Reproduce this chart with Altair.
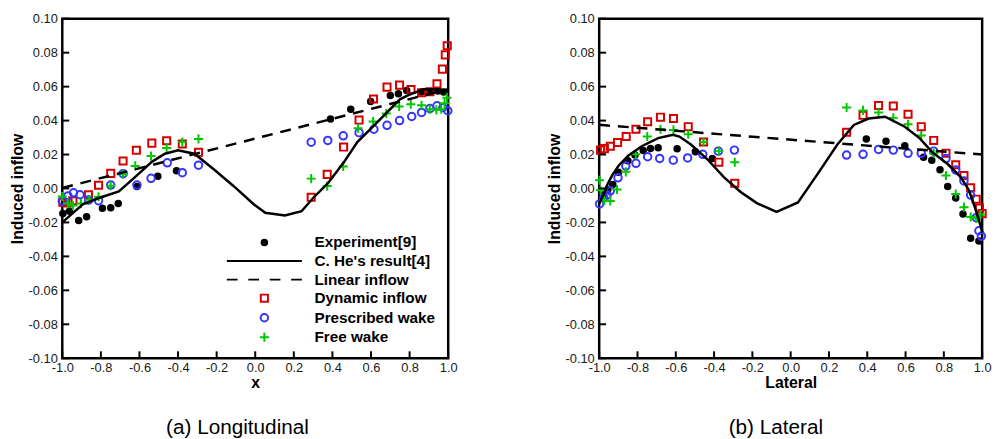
import altair as alt
import pandas as pd

# ---------------- data ----------------
SERIES = ["Experiment[9]", "C. He's result[4]", "Linear inflow",
          "Dynamic inflow", "Prescribed wake", "Free wake"]
X_TICKS = [-1.0, -0.8, -0.6, -0.4, -0.2, 0.0, 0.2, 0.4, 0.6, 0.8, 1.0]
Y_TICKS = [-0.10, -0.08, -0.06, -0.04, -0.02, 0.00, 0.02, 0.04, 0.06, 0.08, 0.10]

# (a) Longitudinal
lon_exp_x = [-0.997, -0.963, -0.915, -0.874, -0.792, -0.749, -0.71, -0.613, -0.505, -0.408,
             0.39, 0.495, 0.598, 0.70, 0.742, 0.785, 0.862, 0.905, 0.947, 0.976]
lon_exp_y = [-0.0147, -0.0134, -0.0188, -0.0167, -0.0116, -0.0114, -0.0089, 0.0012, 0.0072, 0.0104,
             0.041, 0.0467, 0.0512, 0.0548, 0.0558, 0.0577, 0.0568, 0.0568, 0.0574, 0.0568]
lon_he_x = [-1.0, -0.963, -0.894, -0.81, -0.707, -0.62, -0.536, -0.468, -0.40, -0.315, -0.212,
            -0.11, -0.008, 0.052, 0.154, 0.24, 0.30, 0.376, 0.461, 0.529, 0.606, 0.683, 0.75,
            0.785, 0.871, 0.955, 1.0]
lon_he_y = [-0.020, -0.0163, -0.0093, -0.0056, -0.0017, 0.007, 0.0157, 0.0205, 0.0225, 0.0205, 0.011,
            0.0012, -0.0093, -0.0143, -0.0159, -0.0134, -0.0056, 0.003, 0.0157, 0.0273, 0.036, 0.0448,
            0.0525, 0.0545, 0.0585, 0.0583, 0.0574]
lon_lin_x = [-1.0, 1.0]
lon_lin_y = [0.0003, 0.0585]
lon_dyn_x = [-0.997, -0.97, -0.945, -0.864, -0.812, -0.749, -0.685, -0.616, -0.536, -0.459, -0.378,
             -0.294, 0.29, 0.373, 0.458, 0.538, 0.613, 0.683, 0.748, 0.807, 0.862, 0.905, 0.942,
             0.97, 0.985, 0.995]
lon_dyn_y = [-0.0081, -0.0085, -0.0072, -0.0037, 0.0019, 0.0089, 0.0162, 0.0225, 0.0267, 0.0281,
             0.0262, 0.0213, -0.0052, 0.0083, 0.0244, 0.0403, 0.0527, 0.0597, 0.0609, 0.0583, 0.0564,
             0.057, 0.0616, 0.0703, 0.0787, 0.0841]
lon_pre_x = [-1.0, -0.971, -0.942, -0.908, -0.864, -0.812, -0.749, -0.685, -0.613, -0.54, -0.456,
             -0.378, -0.294, 0.29, 0.376, 0.456, 0.538, 0.615, 0.683, 0.748, 0.811, 0.862, 0.905,
             0.942, 0.973, 0.998]
lon_pre_y = [-0.0074, -0.0044, -0.0025, -0.0037, -0.0068, -0.0072, 0.002, 0.0087, 0.002, 0.006,
             0.0151, 0.0093, 0.0137, 0.0273, 0.0283, 0.031, 0.0329, 0.0349, 0.0372, 0.040, 0.0424,
             0.0448, 0.0471, 0.0487, 0.0477, 0.0458]
lon_free_x = [-1.0, -0.971, -0.945, -0.903, -0.86, -0.812, -0.749, -0.685, -0.622, -0.54, -0.459,
              -0.378, -0.294, 0.29, 0.373, 0.456, 0.533, 0.611, 0.679, 0.746, 0.806, 0.862, 0.905,
              0.939, 0.964, 0.981, 0.993]
lon_free_y = [-0.0047, -0.0089, -0.010, -0.0089, -0.0066, -0.0049, 0.0016, 0.0084, 0.0133, 0.0191,
              0.0238, 0.0273, 0.0292, 0.0058, 0.0014, 0.013, 0.0355, 0.0395, 0.0442, 0.0483, 0.0496,
              0.049, 0.0467, 0.0463, 0.0467, 0.0502, 0.0535]

# (b) Lateral
lat_exp_x = [-0.979, -0.955, -0.929, -0.899, -0.85, -0.813, -0.77, -0.732, -0.692, -0.593, -0.498,
             -0.409, 0.395, 0.498, 0.596, 0.694, 0.737, 0.78, 0.82, 0.862, 0.90, 0.94, 0.983]
lat_exp_y = [-0.0038, -0.0006, 0.0024, 0.0096, 0.0163, 0.0197, 0.0224, 0.0236, 0.024, 0.0234, 0.0217,
             0.0177, 0.0292, 0.0278, 0.0252, 0.0184, 0.0167, 0.011, 0.0012, -0.0056, -0.0151, -0.0293,
             -0.0309]
lat_he_x = [-1.0, -0.967, -0.959, -0.933, -0.899, -0.847, -0.778, -0.692, -0.615, -0.581, -0.521,
            -0.435, -0.349, -0.263, -0.177, -0.074, 0.038, 0.141, 0.244, 0.33, 0.407, 0.493, 0.596,
            0.673, 0.742, 0.82, 0.888, 0.931, 0.966, 0.992, 1.0]
lat_he_y = [-0.009, -0.001, 0.0019, 0.0076, 0.0134, 0.0195, 0.0249, 0.0297, 0.0316, 0.0306, 0.0259,
            0.0172, 0.0067, -0.0019, -0.0086, -0.0138, -0.0082, 0.0086, 0.0259, 0.0374, 0.0412,
            0.0423, 0.0364, 0.0297, 0.0211, 0.0144, 0.0067, -0.001, -0.0125, -0.022, -0.026]
lat_lin_x = [-1.0, 1.0]
lat_lin_y = [0.0375, 0.020]
lat_dyn_x = [-0.993, -0.973, -0.942, -0.904, -0.859, -0.808, -0.747, -0.68, -0.612, -0.535, -0.455,
             -0.375, -0.292, 0.292, 0.378, 0.459, 0.536, 0.613, 0.682, 0.747, 0.811, 0.862, 0.905,
             0.94, 0.969, 0.986, 1.0]
lat_dyn_y = [0.0226, 0.0235, 0.0249, 0.0271, 0.0306, 0.0349, 0.0393, 0.042, 0.0412, 0.0364, 0.0274,
             0.0155, 0.0031, 0.0331, 0.0431, 0.0489, 0.0486, 0.0437, 0.0364, 0.0283, 0.0208, 0.014,
             0.0076, 0.0004, -0.0063, -0.0115, -0.0148]
lat_pre_x = [-0.998, -0.976, -0.959, -0.942, -0.902, -0.861, -0.808, -0.747, -0.684, -0.613, -0.538,
             -0.459, -0.378, -0.294, 0.292, 0.378, 0.459, 0.536, 0.613, 0.682, 0.747, 0.811, 0.862,
             0.905, 0.94, 0.969, 0.983, 0.996]
lat_pre_y = [-0.0091, -0.0055, -0.0038, -0.0014, 0.0063, 0.0132, 0.0148, 0.0187, 0.0177, 0.0167,
             0.018, 0.0201, 0.022, 0.0226, 0.0197, 0.0201, 0.023, 0.0226, 0.0207, 0.0207, 0.022,
             0.0176, 0.0109, 0.0044, -0.0039, -0.0172, -0.0249, -0.0281]
lat_free_x = [-0.998, -0.993, -0.973, -0.942, -0.907, -0.861, -0.809, -0.749, -0.68, -0.612, -0.535,
              -0.455, -0.375, -0.292, 0.292, 0.378, 0.459, 0.536, 0.613, 0.682, 0.747, 0.811, 0.862,
              0.905, 0.94, 0.969, 0.991]
lat_free_y = [0.0048, -0.001, -0.0071, -0.0074, -0.0006, 0.0098, 0.0201, 0.0306, 0.0349, 0.0345,
              0.032, 0.0274, 0.022, 0.0155, 0.0477, 0.046, 0.0447, 0.0416, 0.0378, 0.0312, 0.0206,
              0.0076, -0.0033, -0.011, -0.0168, -0.0176, -0.0153]

# ---------------- styles ----------------
STROKE_COLORS = ["#000000", "#000000", "#000000", "#d40000", "#3535ff", "#00c800"]
FILL_COLORS = ["#000000", "transparent", "transparent", "transparent", "transparent", "transparent"]
SYMBOLS = [
    "M0.7,0A0.7,0.7,0,1,1,-0.7,0A0.7,0.7,0,1,1,0.7,0Z",
    "M-9.5,0H9.5",
    "M-9.5,0H-6.79M-4.07,0H-1.36M1.36,0H4.07M6.79,0H9.5",
    "M-0.9,-0.9H0.9V0.9H-0.9Z",
    "M0.95,0A0.95,0.95,0,1,1,-0.95,0A0.95,0.95,0,1,1,0.95,0Z",
    "M-1.15,0H1.15M0,-1.15V1.15",
]
FONT = "Liberation Sans"
HYPHEN = "replace(datum.label, '\u2212', '-')"


def frame(name, xs, ys):
    return pd.DataFrame({"series": name, "x": xs, "y": ys})


def panel(pts, he, lin, xtitle, caption, legend_on, w, h, cap_dx):
    xs = alt.Scale(domain=[-1, 1], nice=False, zero=False)
    ys = alt.Scale(domain=[-0.1, 0.1], nice=False, zero=False)
    xaxis = alt.Axis(values=X_TICKS, format=".1f", labelExpr=HYPHEN, title=xtitle, ticks=False,
                     tickSize=0, domain=False, grid=False, labelFlush=False, labelPadding=3.5,
                     titlePadding=0)
    yaxis = alt.Axis(values=Y_TICKS, format=".2f", labelExpr=HYPHEN, title="Induced inflow",
                     ticks=False, tickSize=0, domain=False, grid=False, labelFlush=False,
                     labelPadding=5, titlePadding=2.5)
    if legend_on:
        leg = alt.Legend(title=None, orient="none", legendX=197, legendY=219, padding=0,
                         labelFont=FONT, labelFontSize=15.5, labelFontWeight="bold",
                         labelColor="black", labelOffset=43, rowPadding=1.8, symbolSize=64,
                         symbolStrokeWidth=2, symbolFillColor="transparent",
                         symbolStrokeColor="black", labelLimit=300)
    else:
        leg = None
    shape = alt.Shape("series:N", scale=alt.Scale(domain=SERIES, range=SYMBOLS), legend=leg)
    stroke = alt.Stroke("series:N", scale=alt.Scale(domain=SERIES, range=STROKE_COLORS), legend=leg)
    fill = alt.Fill("series:N", scale=alt.Scale(domain=SERIES, range=FILL_COLORS), legend=leg)
    X = alt.X("x:Q", scale=xs, axis=xaxis)
    Y = alt.Y("y:Q", scale=ys, axis=yaxis)

    points = alt.Chart(pts).mark_point(size=64, strokeWidth=2, opacity=1).encode(
        x=X, y=Y, shape=shape, stroke=stroke, fill=fill)
    he_line = alt.Chart(he).mark_line(strokeWidth=2.5).encode(x=X, y=Y, stroke=stroke)
    lin_line = alt.Chart(lin).mark_line(strokeWidth=2.5, strokeDash=[11, 8]).encode(
        x=X, y=Y, stroke=stroke)
    ytk = alt.Chart(pd.DataFrame({"y": Y_TICKS})).mark_rule(color="black", strokeWidth=2).encode(
        y=Y, x=alt.value(0), x2=alt.value(7))
    xtk = alt.Chart(pd.DataFrame({"x": X_TICKS})).mark_rule(color="black", strokeWidth=2).encode(
        x=X, y=alt.value(h), y2=alt.value(h - 7))
    return alt.layer(points, he_line, lin_line, ytk, xtk).properties(
        width=w, height=h,
        title=alt.TitleParams(caption, orient="bottom", fontSize=21, fontWeight="normal",
                              font=FONT, color="black", offset=27, anchor="middle", dx=cap_dx))


lon_pts = pd.concat([frame(SERIES[0], lon_exp_x, lon_exp_y), frame(SERIES[3], lon_dyn_x, lon_dyn_y),
                     frame(SERIES[4], lon_pre_x, lon_pre_y), frame(SERIES[5], lon_free_x, lon_free_y)])
lat_pts = pd.concat([frame(SERIES[0], lat_exp_x, lat_exp_y), frame(SERIES[3], lat_dyn_x, lat_dyn_y),
                     frame(SERIES[4], lat_pre_x, lat_pre_y), frame(SERIES[5], lat_free_x, lat_free_y)])

left = panel(lon_pts, frame(SERIES[1], lon_he_x, lon_he_y), frame(SERIES[2], lon_lin_x, lon_lin_y),
             "x", "(a) Longitudinal", True, 391, 344, -18)
right = panel(lat_pts, frame(SERIES[1], lat_he_x, lat_he_y), frame(SERIES[2], lat_lin_x, lat_lin_y),
              "Lateral", "(b) Lateral", False, 388, 344, -15)

chart = alt.hconcat(left, right, spacing=87).resolve_scale(
    shape="independent", stroke="independent", fill="independent"
).properties(
    padding={"left": 0, "top": 0, "right": 0, "bottom": 0}
).configure_view(
    stroke="black", strokeWidth=2.5
).configure_axis(
    labelFont=FONT, labelFontSize=13, labelColor="#1a1a1a",
    titleFont=FONT, titleFontSize=16, titleFontWeight="bold", titleColor="black"
)

chart.save("out.html", embed_options={"renderer": "svg", "actions": False})
